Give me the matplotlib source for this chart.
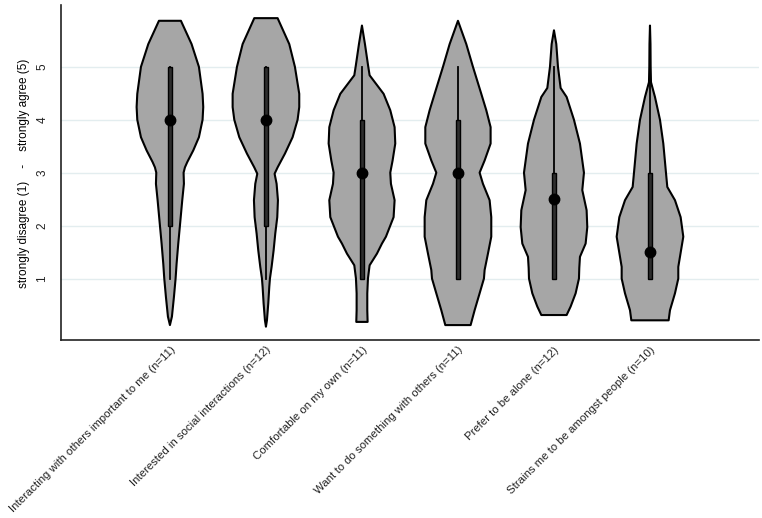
###
## Violin plots of social interaction items (Likert 1-5)
###

import numpy as np
import matplotlib
matplotlib.use("Agg")
import matplotlib.pyplot as plt

plt.rcParams['font.family'] = ['Liberation Sans', 'DejaVu Sans']

## item labels
labels = [
    "Interacting with others important to me (n=11)",
    "Interested in social interactions (n=12)",
    "Comfortable on my own (n=11)",
    "Want to do something with others (n=11)",
    "Prefer to be alone (n=12)",
    "Strains me to be amongst people (n=10)",
]

## box plot stats per item
q1 = [2, 2, 1, 1, 1, 1]
q3 = [5, 5, 4, 4, 3, 3]
medians = [4, 4, 3, 3, 2.5, 1.5]
lows = [1, 1, 1, 1, 1, 1]
highs = [5, 5, 5, 5, 5, 5]

## violin outlines: y level and relative half width (0-100)
v1_y = [0.12, 0.28, 0.65, 1.0, 1.28, 1.66, 2.0, 2.48, 2.79, 3.0, 3.1, 3.2, 3.42, 3.67, 4.0, 4.24, 4.49, 5.0, 5.43, 5.87]
v1_w = [0, 6, 12, 17, 20, 25, 30, 37, 42, 41, 45, 52, 70, 87, 98, 100, 98, 87, 65, 33]
v2_y = [0.09, 0.21, 0.53, 0.84, 1.0, 1.22, 1.53, 1.85, 2.16, 2.48, 2.79, 2.98, 3.1, 3.36, 3.67, 4.0, 4.24, 4.49, 5.0, 5.43, 5.92]
v2_w = [0, 3, 7, 10, 12, 17, 23, 28, 34, 36, 32, 26, 35, 57, 80, 95, 100, 100, 87, 70, 35]
v3_y = [0.18, 0.40, 0.72, 1.0, 1.25, 1.47, 1.66, 1.79, 2.16, 2.48, 2.79, 3.0, 3.23, 3.55, 3.86, 4.18, 4.49, 4.84, 5.0, 5.43, 5.78]
v3_w = [17, 16, 16, 18, 23, 45, 60, 72, 95, 98, 87, 85, 92, 100, 98, 85, 65, 23, 19, 9, 0]
v4_y = [0.12, 0.40, 0.72, 1.0, 1.16, 1.47, 1.79, 2.16, 2.48, 2.79, 3.0, 3.23, 3.55, 3.86, 4.18, 4.49, 5.0, 5.43, 5.87]
v4_w = [38, 50, 65, 78, 80, 90, 100, 100, 95, 75, 65, 80, 98, 98, 85, 70, 45, 25, 0]
v5_y = [0.31, 0.47, 0.72, 1.0, 1.2, 1.41, 1.66, 1.97, 2.29, 2.67, 3.0, 3.23, 3.55, 4.0, 4.43, 4.6, 5.0, 5.43, 5.69]
v5_w = [38, 50, 65, 75, 76, 78, 95, 100, 98, 85, 90, 85, 78, 60, 38, 20, 12, 7, 0]
v6_y = [0.21, 0.40, 0.72, 1.0, 1.22, 1.41, 1.79, 2.16, 2.48, 2.73, 3.0, 3.55, 4.0, 4.43, 4.71, 5.0, 5.43, 5.78]
v6_w = [56, 60, 75, 85, 85, 90, 100, 92, 75, 52, 48, 40, 30, 15, 3, 2, 1.5, 0]

violin_y = [v1_y, v2_y, v3_y, v4_y, v5_y, v6_y]
violin_w = [v1_w, v2_w, v3_w, v4_w, v5_w, v6_w]


def draw_violin(ax, pos, ys, ws, half=0.347):
    ys = np.array(ys)
    ws = np.array(ws) / 100.0 * half
    xs = np.concatenate([pos + ws, (pos - ws)[::-1]])
    yy = np.concatenate([ys, ys[::-1]])
    ax.fill(xs, yy, facecolor='#a6a6a6', edgecolor='black', linewidth=1.5,
            joinstyle='round', zorder=2)


def main():
    fig = plt.figure(figsize=(7.62, 5.18), dpi=100)
    ax = fig.add_axes([0.080, 0.3427, 0.916, 0.6473])

    positions = np.arange(1, len(labels) + 1)
    for i, pos in enumerate(positions):
        draw_violin(ax, pos, violin_y[i], violin_w[i])
        ## whisker
        ax.plot([pos, pos], [lows[i], highs[i]], color='black', linewidth=1.3, zorder=3)
        ## box
        ax.bar(pos, q3[i] - q1[i], bottom=q1[i], width=0.05,
               color='#2e2e2e', edgecolor='black', linewidth=1.0, zorder=4)
        ## median
        ax.plot(pos, medians[i], 'o', color='black', markersize=7.5, zorder=5)

    ax.set_xlim(-0.135, 7.135)
    ax.set_ylim(-0.171, 6.165)

    ax.set_yticks([1, 2, 3, 4, 5])
    ax.set_yticklabels(['1', '2', '3', '4', '5'], rotation=90, va='center', fontsize=8.5)
    ax.set_xticks(positions)
    ax.set_xticklabels(labels, rotation=45, ha='right', rotation_mode='anchor', fontsize=8.2)
    ax.tick_params(axis='both', length=0, colors='#222222')
    ax.tick_params(axis='y', pad=9)
    ax.tick_params(axis='x', pad=3)

    ax.yaxis.grid(True, color='#e3edef', linewidth=1.0, zorder=0)
    ax.set_axisbelow(True)

    for side in ['top', 'right']:
        ax.spines[side].set_visible(False)
    for side in ['left', 'bottom']:
        ax.spines[side].set_linewidth(1.2)
        ax.spines[side].set_color('#222222')

    ax.set_ylabel("strongly disagree (1)    -    strongly agree (5)", fontsize=8.5, labelpad=5)

    fig.savefig("out.png", dpi=100)


if __name__ == "__main__":
    main()
